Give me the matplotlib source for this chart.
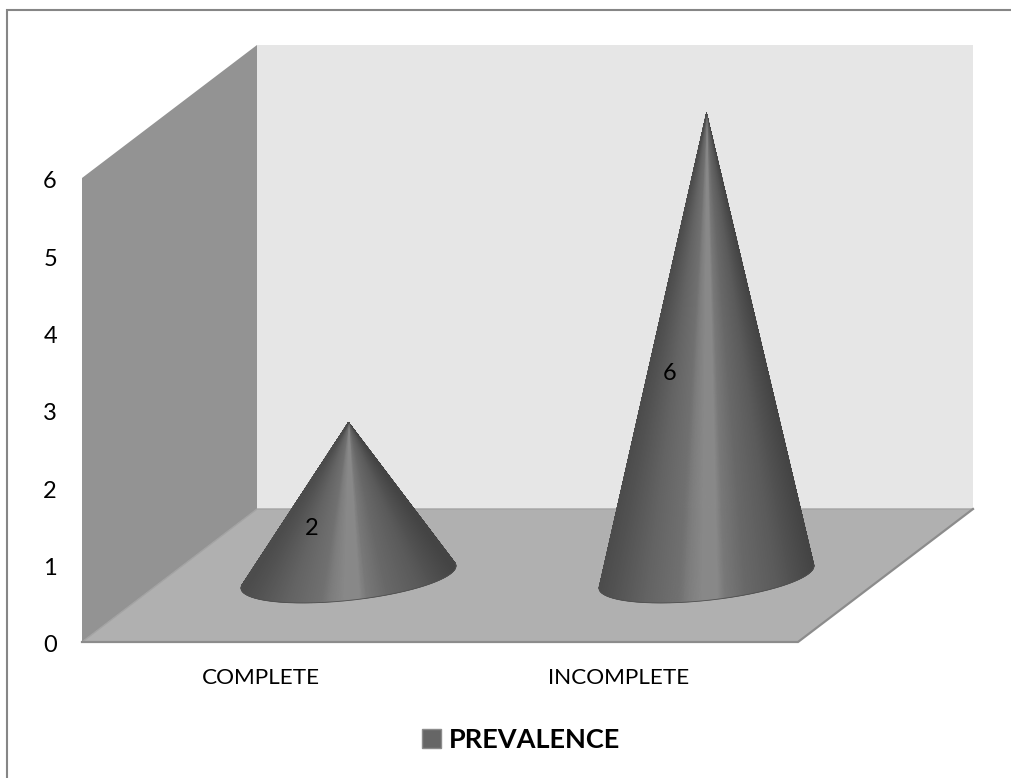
import numpy as np
import matplotlib
matplotlib.use("Agg")
import matplotlib.pyplot as plt
from matplotlib.collections import PolyCollection
from matplotlib.colors import LinearSegmentedColormap
from matplotlib.lines import Line2D
from matplotlib.patches import Patch, Polygon
from matplotlib.transforms import ScaledTranslation

categories = ["COMPLETE", "INCOMPLETE"]
prevalence = [2, 6]
y_ticks = [0, 1, 2, 3, 4, 5, 6]
series_name = "PREVALENCE"

W, H = 1011, 778
FRONT_L, FRONT_R, FRONT_B, FRONT_T = 82, 798, 642, 178

plt.rcParams["font.family"] = ["Lato", "DejaVu Sans"]
fig = plt.figure(figsize=(W / 100, H / 100), dpi=100, facecolor="white")
ax = fig.add_axes([FRONT_L / W, 1 - FRONT_B / H,
                   (FRONT_R - FRONT_L) / W, (FRONT_B - FRONT_T) / H])
ax.set_xlim(0, len(categories))
ax.set_ylim(0, y_ticks[-1])
ax.patch.set_visible(False)
for s in ax.spines.values():
    s.set_visible(False)

px_x = (FRONT_R - FRONT_L) / len(categories)   # pixels per category
px_y = (FRONT_B - FRONT_T) / y_ticks[-1]       # pixels per unit of value
DX, DY = 175 / px_x, 133 / px_y                # offset of the back wall


def project(x, y, depth=0.0):
    """Oblique projection of a point in the plot box to axis coordinates."""
    return x + depth * DX, y + depth * DY


def face(corners, color, z):
    pts = [project(*c) for c in corners]
    ax.add_patch(Polygon(pts, closed=True, facecolor=color, edgecolor="none",
                         clip_on=False, zorder=z))


n, top = len(categories), y_ticks[-1]
face([(0, 0, 0), (0, top, 0), (0, top, 1), (0, 0, 1)], "#939393", 1)
face([(0, 0, 1), (0, top, 1), (n, top, 1), (n, 0, 1)], "#e6e6e6", 1)
face([(0, 0, 0), (n, 0, 0), (n, 0, 1), (0, 0, 1)], "#b0b0b0", 2)

# floor outline along the front and right edges, and where it meets the wall
ax.plot(*zip(project(0, 0), project(n, 0), project(n, 0, 1)),
        color="#8c8c8c", lw=1.6, clip_on=False, zorder=3, solid_joinstyle="miter")
ax.plot(*zip(project(0, 0), project(0, 0, 1), project(n, 0, 1)),
        color="#a3a3a3", lw=1.0, clip_on=False, zorder=2.5)

# grey levels across the visible surface of a cone, from its left to right edge
shade = LinearSegmentedColormap.from_list("cone", [
    (0.00, "#4c4c4c"), (0.06, "#525252"), (0.215, "#636363"), (0.37, "#707070"),
    (0.415, "#7d7d7d"), (0.48, "#888888"), (0.55, "#888888"), (0.585, "#787878"),
    (0.68, "#686868"), (0.83, "#5a5a5a"), (0.95, "#4a4a4a"), (1.00, "#444444")])


def draw_cone(index, value):
    cx, cy = project(index + 0.5, 0, 0.5)
    cy -= 1.5 / px_y
    apex = np.array([cx, cy + value])
    t = np.linspace(0, 2 * np.pi, 1441)
    # base ellipse, sheared because the circle lies on the receding floor
    ex = cx + (106 * np.cos(t) - 18 * np.sin(t)) / px_x
    ey = cy + (7 * np.cos(t) - 25 * np.sin(t)) / px_y
    # silhouette lines: tangents from the apex to the ellipse, in pixel space
    ang = np.arctan2((ey - apex[1]) * px_y, (ex - apex[0]) * px_x)
    ang = np.where(ang > np.pi / 2, ang - 2 * np.pi, ang)
    i_right, i_left = int(np.argmax(ang)), int(np.argmin(ang))
    idx = np.arange(i_right, i_left + 1) if i_right <= i_left else \
        np.r_[i_right:len(t), 0:i_left + 1]
    bx, by = ex[idx], ey[idx]
    segs, u = [], []
    span = bx[0] - bx[-1]
    for k in range(len(idx) - 1):
        segs.append([apex, (bx[k], by[k]), (bx[k + 1], by[k + 1])])
        u.append((bx[k] - bx[-1]) / span)
    colors = shade(np.array(u))
    ax.add_collection(PolyCollection(segs, facecolors=colors, edgecolors=colors,
                                     linewidths=0.25, clip_on=False, zorder=4))
    ax.plot(bx, by, color="#505050", lw=0.6, clip_on=False, zorder=5)


for i, v in enumerate(prevalence):
    draw_cone(i, v)
    lx, ly = project(i + 0.5, v / 2, 0.29)
    ax.text(lx, ly - 2 / px_y, str(v), ha="center", va="center", fontsize=17,
            color="black", zorder=6)

ax.set_yticks(y_ticks)
ax.set_xticks(np.arange(n) + 0.5)
ax.set_xticklabels(categories)
ax.tick_params(axis="y", length=0, pad=18, labelsize=17)
ax.tick_params(axis="x", length=0, pad=19, labelsize=16.2)

# the value labels sit slightly below their tick heights
nudge = ScaledTranslation(0, -2 / 100, fig.dpi_scale_trans)
for lbl in ax.get_yticklabels():
    lbl.set_transform(lbl.get_transform() + nudge)

fig.legend(handles=[Patch(facecolor="#666666", edgecolor="#8c8c8c", label=series_name)],
           loc="center", bbox_to_anchor=(521 / W, 1 - 740 / H), frameon=False,
           prop={"size": 19.5, "weight": "bold"}, handlelength=0.7, handleheight=0.75,
           handletextpad=0.3)

# chart-area frame: only the top and left edges fall inside the image
fig.add_artist(Line2D([7 / W, 7 / W, 1], [0, 1 - 10 / H, 1 - 10 / H],
                      transform=fig.transFigure, color="#868686", lw=1.5,
                      solid_joinstyle="miter"))

fig.savefig("out.png", dpi=100, facecolor="white")
